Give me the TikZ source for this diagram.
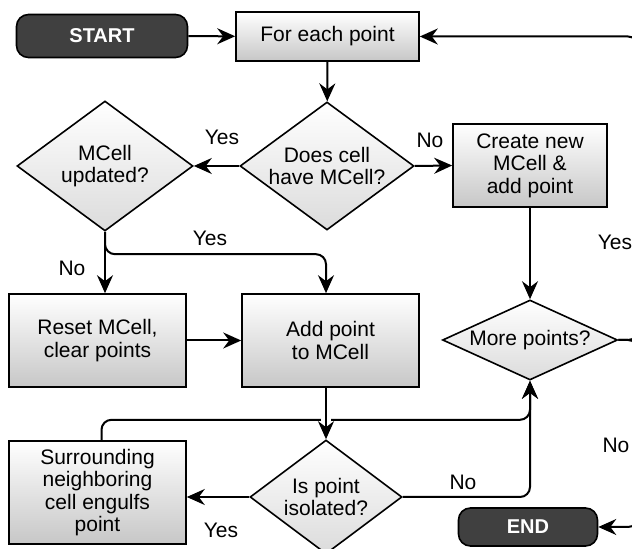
\documentclass[tikz,border=0pt]{standalone}
\usepackage{fontspec}
\setmainfont{Liberation Sans}
\usetikzlibrary{arrows.meta,shapes,positioning,calc}

\begin{document}
\begin{tikzpicture}[x=0.5pt,y=-0.5pt,>={Stealth[length=9pt,width=8pt,inset=3pt]},
  font=\fontsize{10.5}{11.3}\selectfont,
  box/.style={draw,line width=0.8pt,align=center,inner sep=0pt,top color=white,bottom color=black!22},
  term/.style={draw,line width=0.8pt,rounded corners=6pt,fill=black!75,text=white,inner sep=0pt,font=\fontsize{10}{12}\selectfont\bfseries},
  ask/.style={diamond,draw,line width=0.8pt,align=center,inner sep=0pt,aspect=1.4,top color=white,bottom color=black!14},
  arr/.style={->,line width=1pt,rounded corners=5pt},
  lbl/.style={inner sep=0pt}]
\useasboundingbox (0,0) rectangle (632,549);
\fill[white] (0,0) rectangle (632,549);
\clip (0,0) rectangle (632,549);
% nodes
\node[term,minimum width=85.5pt,minimum height=21.5pt] (start) at (102,36) {START};
\node[box,minimum width=91.5pt,minimum height=24.5pt] (each) at (327.5,36.5) {For each point};
\node[ask,minimum width=87pt,minimum height=64pt] (hasmc) at (327,166) {Does cell\\have MCell?};
\node[ask,minimum width=88pt,minimum height=65pt] (upd) at (105,166) {MCell\\updated?};
\node[box,minimum width=77pt,minimum height=41.5pt] (create) at (530,165.5) {Create new\\MCell \&\\add point};
\node[ask,minimum width=87.5pt,minimum height=40pt,aspect=2.2] (more) at (530,340) {More points?};
\node[box,minimum width=88.5pt,minimum height=46.5pt] (reset) at (97.5,340.5) {Reset MCell,\\clear points};
\node[box,minimum width=88.5pt,minimum height=46.5pt] (add) at (330.5,340.5) {Add point\\to MCell};
\node[ask,minimum width=76pt,minimum height=57pt] (iso) at (326,497) {Is point\\isolated?};
\node[box,minimum width=88.5pt,minimum height=51.5pt] (engulf) at (97.5,492.5) {Surrounding\\neighboring\\cell engulfs\\point};
\node[term,minimum width=69.5pt,minimum height=19pt] (end) at (528,527) {END};
\coordinate (loop) at (638,340);
% connectors
\draw[arr] (start) -- (each);
\draw[arr] (each) -- (hasmc);
\draw[arr] (hasmc.west) -- (upd.east);
\draw[arr] (hasmc.east) -- (create.west);
\draw[arr] (create) -- (more);
\draw[arr] (upd.south) -- (upd.south |- reset.north);
\draw[arr] (upd.south) |- ($(add.north -| iso.north)+(0,-39)$) -- (add.north -| iso.north);
\draw[arr] (reset) -- (add);
\draw[arr] ([xshift=2pt]engulf.north) |- ($(more.south)+(0,39)$) -- (more.south);
\draw[arr,preaction={draw=white,line width=5pt,-,shorten <=3pt,shorten >=3pt}] (add.south -| iso.north) -- (iso.north);
\draw[arr] (iso.west) -- (engulf.east |- iso.west);
\draw[arr] (iso.east) -| (more.south);
\draw[arr] (more.east) -- (loop) |- (each.east);
\draw[arr] (more.east) -- (loop) |- (end.east);
% labels
\node[lbl] (l1) at (222,137) {Yes};
\node[lbl] (l2) at (430,140) {No};
\node[lbl] (l3) at (210,238) {Yes};
\node[lbl] (l4) at (72,268) {No};
\node[lbl] (l5) at (615,242) {Yes};
\node[lbl] (l6) at (616,445) {No};
\node[lbl] (l7) at (463,482) {No};
\node[lbl] (l8) at (221,530) {Yes};
\end{tikzpicture}
\end{document}
